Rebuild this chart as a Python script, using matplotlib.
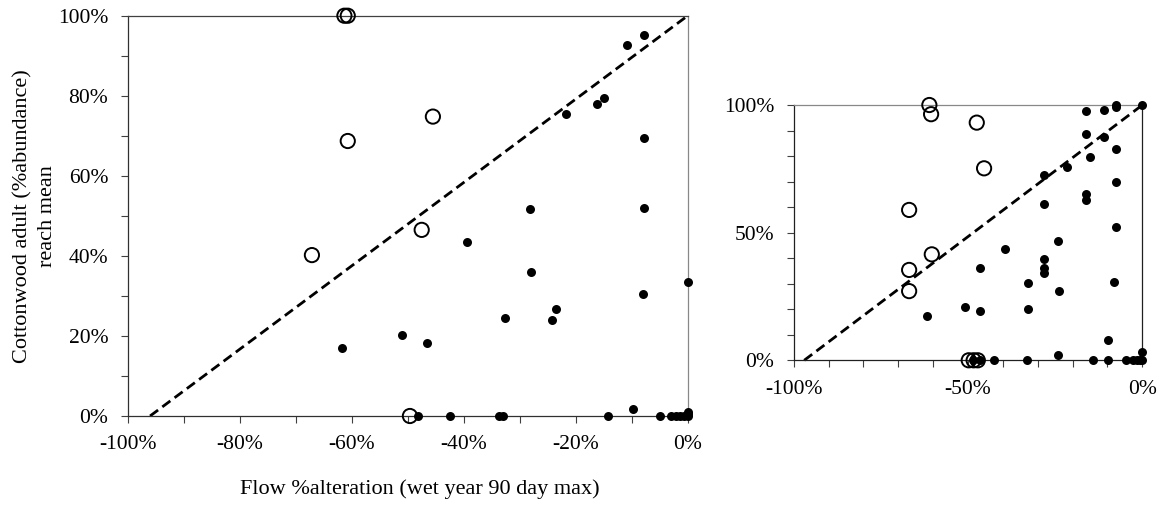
import matplotlib
matplotlib.use('Agg')
import matplotlib.pyplot as plt
from matplotlib.ticker import MultipleLocator, FuncFormatter

# ── data (percent units) ──────────────────────────────────────────────────────
# left panel: open circles
LO_X = [-61.3, -60.7, -60.7, -45.5, -67.1, -47.5, -49.6]
LO_Y = [100, 100, 68.7, 74.8, 40.2, 46.5, 0]
# left panel: filled dots
LF_X = [-10.9, -7.75, -21.8, -16.2, -14.9, -7.75, -28.2, -7.75, -39.4, -27.9,
        0, -8.0, -23.6, -24.2, -32.7, -51.1, -46.6, -61.8,
        -48.1, -42.4, -33.75, -32.9, -14.2, -5.0, -2.9, -2.1, -1.4, -0.7, 0,
        -9.8, 0, 0]
LF_Y = [92.7, 95.3, 75.4, 78.0, 79.4, 69.4, 51.6, 51.9, 43.4, 36.0,
        33.4, 30.4, 26.8, 23.9, 24.6, 20.3, 18.3, 16.9,
        0, 0, 0, 0, 0, 0, 0, 0, 0, 0, 0,
        1.7, 1.1, 0.4]
LINE_L_X = [-96, 0]
LINE_L_Y = [0, 100]

# right panel: open circles
RO_X = [-61.1, -60.6, -47.5, -45.4, -66.9, -60.4, -66.9, -66.9, -49.8, -47.2, -48.4]
RO_Y = [100, 96.4, 93.1, 75.2, 58.9, 41.5, 35.4, 27.1, 0, 0, 0]
# right panel: filled dots
RF_X = [0, -7.6, -7.6, -16.15, -10.9, -16.15, -10.9, -7.6, -14.9, -21.6,
        -28.1, -7.5, -16.15, -16.15, -28.1, -7.5, -24.1, -39.4, -28.1, -46.6,
        -28.1, -28.1, -32.7, -8.0, -23.8, -50.9, -32.7, -46.6, -61.7, -9.9,
        -24.1, 0,
        -48.5, -46.7, -42.5, -33.0, -14.1, -9.75, -4.8, -2.6, -1.4, -0.7, 0]
RF_Y = [100, 100, 99.3, 97.8, 98.0, 88.5, 87.6, 82.8, 79.5, 75.6,
        72.6, 69.7, 65.0, 62.8, 61.2, 52.1, 46.8, 43.7, 39.8, 36.3,
        36.3, 34.3, 30.2, 30.8, 27.3, 21.0, 20.0, 19.2, 17.4, 8.0,
        1.9, 3.1,
        0, 0, 0, 0, 0, 0, 0, 0, 0, 0, 0]
LINE_R_X = [-97, 0]
LINE_R_Y = [0, 100]

XLABEL = 'Flow %alteration (wet year 90 day max)'
YLABEL = 'Cottonwood adult (%abundance)\nreach mean'

# ── style ─────────────────────────────────────────────────────────────────────
plt.rcParams['font.family'] = ['Liberation Serif', 'DejaVu Serif']
FS_TICK = 15.5
FS_LABEL = 16
pct = FuncFormatter(lambda v, _: f'{v:.0f}%')


def draw_panel(ax, ox, oy, fx, fy, lx, ly, xmajor, ymajor, spine_cols):
    ax.plot(lx, ly, color='black', lw=2.0, ls=(0, (3.6, 1.9)), zorder=2,
            clip_on=False)
    ax.scatter(fx, fy, s=42, color='black', zorder=3, clip_on=False,
               linewidths=0)
    ax.scatter(ox, oy, s=105, facecolors='none', edgecolors='black',
               linewidths=1.4, zorder=4, clip_on=False)
    ax.set_xlim(-100, 0)
    ax.set_ylim(0, 100)
    ax.xaxis.set_major_locator(MultipleLocator(xmajor))
    ax.xaxis.set_minor_locator(MultipleLocator(10))
    ax.yaxis.set_major_locator(MultipleLocator(ymajor))
    ax.yaxis.set_minor_locator(MultipleLocator(10))
    ax.xaxis.set_major_formatter(pct)
    ax.yaxis.set_major_formatter(pct)
    ax.tick_params(which='both', direction='out', length=5, width=0.8,
                   color='#404040', labelsize=FS_TICK, pad=9)
    for side, c in spine_cols.items():
        ax.spines[side].set_color(c)
        ax.spines[side].set_linewidth(0.9)


fig = plt.figure(figsize=(11.69, 5.12), dpi=100, facecolor='white')

ax1 = fig.add_axes([0.1092, 0.1875, 0.4791, 0.7818])
draw_panel(ax1, LO_X, LO_Y, LF_X, LF_Y, LINE_L_X, LINE_L_Y, 20, 20,
           {'left': '#303030', 'bottom': '#303030',
            'top': '#404040', 'right': '#888888'})
fig.text(0.030, 0.578, YLABEL, fontsize=FS_LABEL, rotation=90,
         ha='center', va='center', multialignment='center', linespacing=1.45)
fig.text(0.359, 0.045, XLABEL, fontsize=FS_LABEL, ha='center', va='center')

ax2 = fig.add_axes([0.6790, 0.2963, 0.2982, 0.4986])
draw_panel(ax2, RO_X, RO_Y, RF_X, RF_Y, LINE_R_X, LINE_R_Y, 50, 50,
           {'left': '#202020', 'bottom': '#202020',
            'top': '#888888', 'right': '#202020'})

fig.savefig('out.png', dpi=100, facecolor='white')
